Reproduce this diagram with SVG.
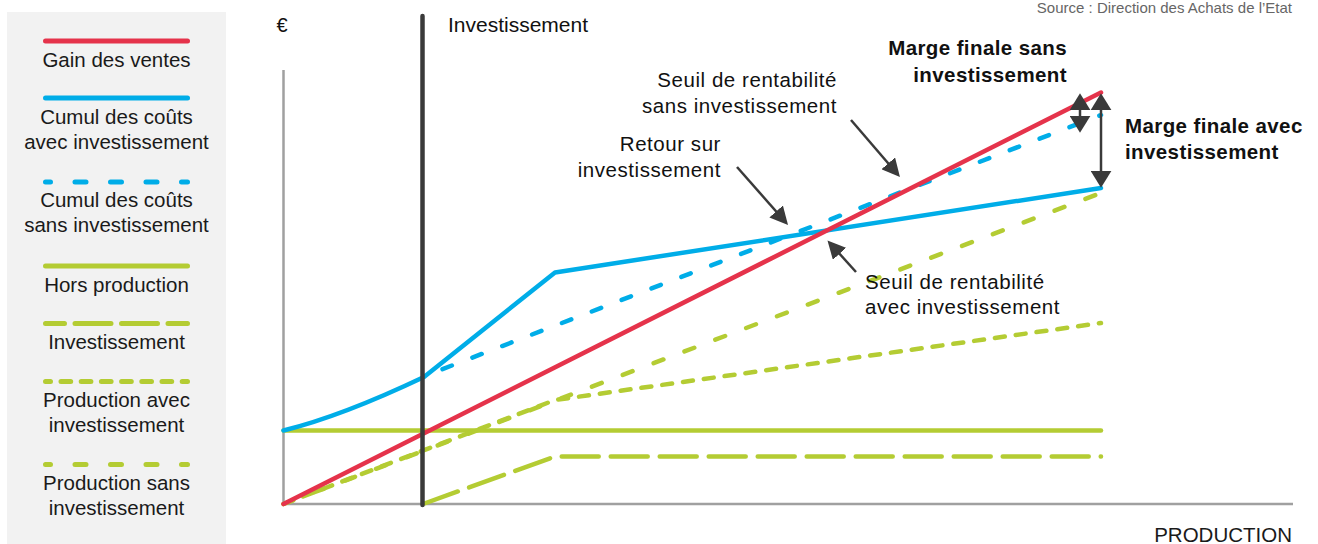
<svg xmlns="http://www.w3.org/2000/svg" width="1318" height="544" viewBox="0 0 1318 544">
<style>
.leg{font-family:"Liberation Sans",Arial,sans-serif;font-size:20.5px;fill:#1a1a1a;text-anchor:middle}
.lab{font-family:"Liberation Sans",Arial,sans-serif;font-size:20.5px;fill:#111;letter-spacing:0.55px}
.bold{font-weight:bold;letter-spacing:0.4px;font-size:20.5px}
.ln{fill:none;stroke-linecap:round;stroke-linejoin:round}
.red{stroke:#e5334b}
.blue{stroke:#00ade8}
.green{stroke:#b4cc33}
.ann{stroke:#3a3a3a;stroke-width:2.5;fill:none}
</style>
<defs>
<marker id="ah" viewBox="0 0 10 10" refX="5.6" refY="5" markerWidth="18" markerHeight="18" markerUnits="userSpaceOnUse" orient="auto">
<path d="M0,0 L10,5 L0,10 z" fill="#3a3a3a"/>
</marker>
<marker id="ad" viewBox="0 0 10 10" refX="6" refY="5" markerWidth="17" markerHeight="21" markerUnits="userSpaceOnUse" orient="auto-start-reverse" preserveAspectRatio="none">
<path d="M0,0 L10,5 L0,10 z" fill="#3a3a3a"/>
</marker>
</defs>
<rect width="1318" height="544" fill="#ffffff"/>
<text x="1292" y="13" font-family="Liberation Sans,Arial,sans-serif" font-size="15" fill="#666" text-anchor="end">Source : Direction des Achats de l’Etat</text>

<g id="legend">
<rect x="7" y="12" width="219" height="532" fill="#f2f2f2"/>
<g id="leg-gain">
<line class="ln red" x1="45.5" y1="41" x2="187.5" y2="41" stroke-width="5"/>
<text class="leg" x="116.5" y="67">Gain des ventes</text>
</g>
<g id="leg-cumul-avec">
<line class="ln blue" x1="45.5" y1="98" x2="187.5" y2="98" stroke-width="5"/>
<text class="leg" x="116.5" y="124">Cumul des coûts</text>
<text class="leg" x="116.5" y="149">avec investissement</text>
</g>
<g id="leg-cumul-sans">
<line class="ln blue" x1="45.5" y1="182" x2="187.5" y2="182" stroke-width="5" stroke-dasharray="11 24.5" stroke-dashoffset="6"/>
<text class="leg" x="116.5" y="207">Cumul des coûts</text>
<text class="leg" x="116.5" y="232">sans investissement</text>
</g>
<g id="leg-hors">
<line class="ln green" x1="45.5" y1="266" x2="187.5" y2="266" stroke-width="5"/>
<text class="leg" x="116.5" y="292">Hors production</text>
</g>
<g id="leg-invest">
<line class="ln green" x1="45.5" y1="323.5" x2="187.5" y2="323.5" stroke-width="5" stroke-dasharray="36 10.5" stroke-dashoffset="17"/>
<text class="leg" x="116.5" y="349">Investissement</text>
</g>
<g id="leg-prod-avec">
<line class="ln green" x1="45.5" y1="381.5" x2="187.5" y2="381.5" stroke-width="5" stroke-dasharray="9.7 10.5" stroke-dashoffset="4.7"/>
<text class="leg" x="116.5" y="407">Production avec</text>
<text class="leg" x="116.5" y="432">investissement</text>
</g>
<g id="leg-prod-sans">
<line class="ln green" x1="45.5" y1="464.5" x2="187.5" y2="464.5" stroke-width="5" stroke-dasharray="11 24.5" stroke-dashoffset="6"/>
<text class="leg" x="116.5" y="490">Production sans</text>
<text class="leg" x="116.5" y="515">investissement</text>
</g>
</g>

<g id="axes">
<polyline points="283.5,70 283.5,504 1293,504" fill="none" stroke="#a0a0a0" stroke-width="2.5"/>
<text x="276.5" y="32" font-family="Liberation Sans,Arial,sans-serif" font-size="20" fill="#111">€</text>
<text x="1292" y="542" font-family="Liberation Sans,Arial,sans-serif" font-size="20.5" fill="#1a1a1a" text-anchor="end">PRODUCTION</text>
</g>

<g id="series">
<polyline id="hors-production" class="ln green" points="283.5,430.5 1101,430.5" stroke-width="4.5"/>
<polyline id="investissement" class="ln green" points="423,504 555,456.5 1101,456.5" stroke-width="4.5" stroke-dasharray="37 12"/>
<polyline id="production-sans" class="ln green" points="283.5,504 1101,193" stroke-width="4.5" stroke-dasharray="10.5 22.5"/>
<polyline id="production-avec" class="ln green" points="283.5,504 555,400 1101,323" stroke-width="4.5" stroke-dasharray="10 11"/>
<polyline id="cumul-sans" class="ln blue" points="422,377 1101,115" stroke-width="4.5" stroke-dasharray="10 22" stroke-dashoffset="-22"/>
<path id="cumul-avec" class="ln blue" d="M283.5,430.5 Q342,416 424,377 L555,272.5 L1101,188" stroke-width="4.5"/>
<polyline id="gain" class="ln red" points="283.5,504 1101,92.5" stroke-width="4.5"/>
</g>

<g id="investment-bar">
<line x1="422.5" y1="16" x2="422.5" y2="505" stroke="#3a3a3a" stroke-width="4.5" stroke-linecap="round"/>
<text x="448" y="32" font-family="Liberation Sans,Arial,sans-serif" font-size="21" fill="#111">Investissement</text>
</g>

<g id="connectors">
<line class="ann" x1="737" y1="167" x2="782.8" y2="219" marker-end="url(#ah)"/>
<line class="ann" x1="851" y1="120" x2="894.8" y2="171" marker-end="url(#ah)"/>
<line class="ann" x1="856" y1="272" x2="832.8" y2="246.3" marker-end="url(#ah)"/>
<line class="ann" x1="1080" y1="100" x2="1080" y2="126" marker-start="url(#ad)" marker-end="url(#ad)"/>
<line class="ann" x1="1101" y1="100" x2="1101" y2="181" marker-start="url(#ad)" marker-end="url(#ad)"/>
</g>

<g id="label-retour">
<text class="lab" x="721" y="150.5" text-anchor="end">Retour sur</text>
<text class="lab" x="721" y="176.5" text-anchor="end">investissement</text>
</g>
<g id="label-seuil-sans">
<text class="lab" x="837" y="86.5" text-anchor="end">Seuil de rentabilité</text>
<text class="lab" x="837" y="112.5" text-anchor="end">sans investissement</text>
</g>
<g id="label-seuil-avec">
<text class="lab" x="865" y="289">Seuil de rentabilité</text>
<text class="lab" x="865" y="314">avec investissement</text>
</g>
<g id="label-marge-sans">
<text class="lab bold" x="1067" y="55" text-anchor="end">Marge finale sans</text>
<text class="lab bold" x="1067" y="81.5" text-anchor="end">investissement</text>
</g>
<g id="label-marge-avec">
<text class="lab bold" x="1125" y="132.5">Marge finale avec</text>
<text class="lab bold" x="1125" y="158.5">investissement</text>
</g>
</svg>
